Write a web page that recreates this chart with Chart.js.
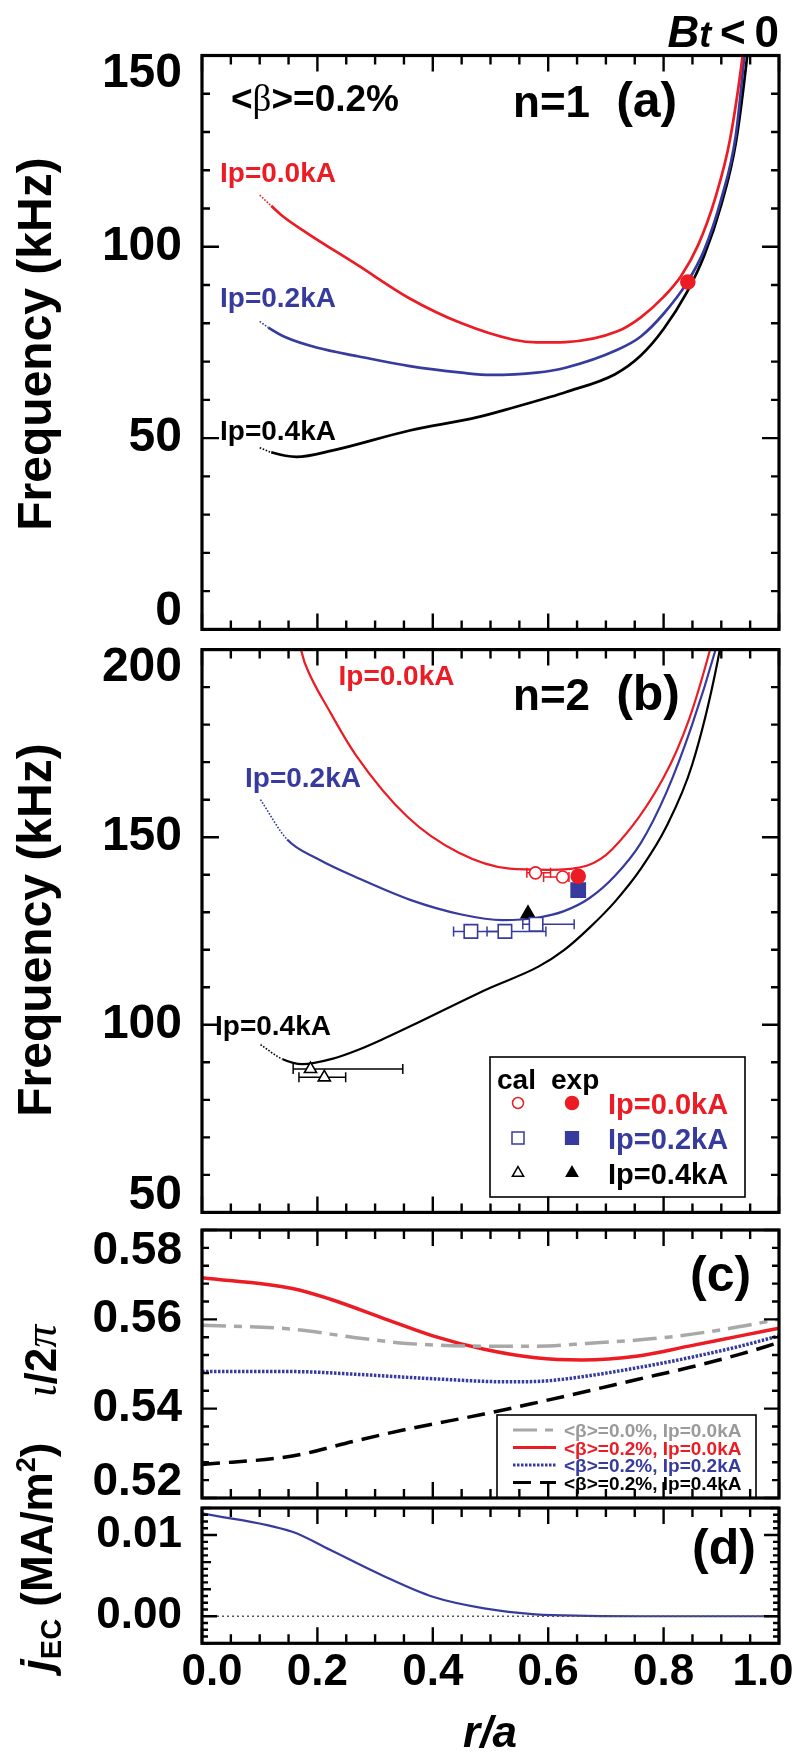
<!DOCTYPE html>
<html>
<head>
<meta charset="utf-8">
<title>n=1 / n=2 mode frequencies, rotational transform and EC current profiles</title>
<script src="https://cdn.jsdelivr.net/npm/chart.js"></script>
<style>
html,body{margin:0;padding:0;background:#ffffff;}
#wrap{position:relative;width:804px;height:1754px;overflow:hidden;background:#ffffff;}
#wrap canvas{position:absolute;left:0;}
</style>
</head>
<body>
<div id="wrap">
<canvas id="cA"></canvas>
<canvas id="cB"></canvas>
<canvas id="cC"></canvas>
<canvas id="cD"></canvas>
</div>
<script>
// ================= DATA =================
const xTickValues = [0, 0.2, 0.4, 0.6, 0.8, 1.0];
const xTickLabels = ['0.0', '0.2', '0.4', '0.6', '0.8', '1.0'];

// ---- panel (a): n=1, frequency (kHz) ----
const aYTickValues = [0, 50, 100, 150];
const aYTickLabels = ['0', '50', '100', '150'];
const aRedX   = [0.10, 0.12, 0.14, 0.18, 0.27, 0.36, 0.45, 0.54, 0.58, 0.63, 0.72, 0.76, 0.80, 0.83, 0.86, 0.89, 0.915, 0.937, 0.955];
const aRedY   = [113.5, 110.7, 108.0, 103.8, 95.2, 86.5, 80.0, 75.7, 75.0, 75.1, 77.9, 81.5, 86.9, 92.3, 100.5, 113.0, 128.0, 150.0, 175.0];
const aBlueX  = [0.10, 0.115, 0.147, 0.20, 0.27, 0.36, 0.45, 0.50, 0.58, 0.63, 0.72, 0.76, 0.80, 0.84, 0.87, 0.90, 0.925, 0.94, 0.955];
const aBlueY  = [80.5, 78.9, 76.2, 73.6, 71.4, 68.8, 67.1, 66.5, 67.1, 68.4, 73.1, 76.5, 82.5, 90.5, 99.0, 112.5, 129.0, 150.0, 175.0];
const aBlackX = [0.10, 0.12, 0.164, 0.227, 0.36, 0.476, 0.54, 0.60, 0.63, 0.716, 0.76, 0.80, 0.84, 0.87, 0.90, 0.925, 0.945, 0.965];
const aBlackY = [47.5, 46.3, 45.1, 46.8, 52.0, 55.4, 58.0, 60.6, 62.0, 66.7, 71.5, 78.5, 88.0, 97.5, 111.0, 127.0, 150.0, 180.0];
const aExpRedX = [0.842];
const aExpRedY = [90.8];

// ---- panel (b): n=2, frequency (kHz) ----
const bYTickValues = [50, 100, 150, 200];
const bYTickLabels = ['50', '100', '150', '200'];
const bRedX   = [0.14, 0.170, 0.1785, 0.2226, 0.2666, 0.3555, 0.4443, 0.5332, 0.60, 0.6666, 0.711, 0.80, 0.8443, 0.88, 0.90];
const bRedY   = [208, 200.6, 196.3, 183.2, 171.9, 155.5, 145.9, 141.6, 141.3, 142.4, 146.8, 165.9, 181.5, 199.7, 212];
const bBlueX  = [0.1014, 0.1476, 0.2009, 0.2719, 0.3608, 0.4497, 0.5208, 0.583, 0.6274, 0.6718, 0.7162, 0.7607, 0.8051, 0.8495, 0.8895, 0.91];
const bBlueY  = [160.0, 149.4, 144.2, 139.0, 133.3, 129.4, 127.9, 128.6, 130.3, 133.8, 139.8, 148.5, 162.0, 180.0, 199.7, 212];
const bBlackX = [0.1014, 0.14, 0.174, 0.227, 0.27, 0.3165, 0.3608, 0.4941, 0.583, 0.6274, 0.6718, 0.7162, 0.7607, 0.8051, 0.8495, 0.8939, 0.91];
const bBlackY = [94.7, 90.8, 89.5, 91.0, 93.3, 96.4, 99.6, 109.5, 115.5, 119.9, 125.9, 132.9, 141.6, 152.9, 169.3, 197.1, 212];
// calculated (open) and experimental (filled) points
const bCalRedX = [0.578, 0.625];
const bCalRedY = [140.5, 139.4];
const bCalRedLo = [0.563, 0.592];
const bCalRedHi = [0.604, 0.636];
const bCalBlueX = [0.466, 0.525, 0.579];
const bCalBlueY = [124.9, 124.9, 126.8];
const bCalBlueLo = [0.436, 0.494, 0.556];
const bCalBlueHi = [0.517, 0.596, 0.645];
const bCalBlackX = [0.188, 0.212];
const bCalBlackY = [88.2, 86.0];
const bCalBlackLo = [0.158, 0.168];
const bCalBlackHi = [0.348, 0.249];
const bExpRedX = [0.652];   const bExpRedY = [139.6];
const bExpBlueX = [0.652];  const bExpBlueY = [135.9];
const bExpBlackX = [0.565]; const bExpBlackY = [129.6];

// ---- panel (c): iota/2pi ----
const cYTickValues = [0.52, 0.54, 0.56, 0.58];
const cYTickLabels = ['0.52', '0.54', '0.56', '0.58'];
const cGrayX  = [0, 0.1565, 0.2666, 0.3555, 0.489, 0.578, 0.667, 0.80, 0.9065, 1.0];
const cGrayY  = [0.5587, 0.5578, 0.5559, 0.5546, 0.5540, 0.5540, 0.5546, 0.5559, 0.5578, 0.5600];
const cRedX   = [0, 0.1565, 0.2226, 0.311, 0.40, 0.489, 0.578, 0.658, 0.756, 0.844, 0.933, 1.0];
const cRedY   = [0.5693, 0.5669, 0.5645, 0.5604, 0.5563, 0.5533, 0.5514, 0.5509, 0.5518, 0.5540, 0.5563, 0.5580];
const cBlueX  = [0, 0.1565, 0.2666, 0.40, 0.533, 0.595, 0.667, 0.756, 0.844, 0.933, 1.0];
const cBlueY  = [0.5483, 0.5483, 0.5477, 0.5467, 0.5460, 0.5462, 0.5473, 0.5492, 0.5514, 0.5540, 0.5563];
const cBlackX = [0, 0.1565, 0.2666, 0.3555, 0.489, 0.578, 0.667, 0.756, 0.844, 0.933, 1.0];
const cBlackY = [0.5275, 0.5294, 0.5328, 0.5354, 0.5388, 0.5413, 0.5439, 0.5466, 0.5492, 0.5522, 0.5548];
const cLegendLabels = ['<\u03b2>=0.0%, Ip=0.0kA', '<\u03b2>=0.2%, Ip=0.0kA', '<\u03b2>=0.2%, Ip=0.2kA', '<\u03b2>=0.2%, Ip=0.4kA'];

// ---- panel (d): j_EC (MA/m^2) ----
const dYTickValues = [0, 0.01];
const dYTickLabels = ['0.00', '0.01'];
const dJX = [0, 0.1565, 0.2226, 0.311, 0.40, 0.489, 0.578, 0.667, 0.80, 1.0];
const dJY = [0.01268, 0.0104, 0.00815, 0.00508, 0.0024, 0.00097, 0.00023, 0.00005, 0.0, 0.0];
const dZeroX = [0, 1];
const dZeroY = [0, 0];

// ================= STYLE =================
const SANS = '"Liberation Sans", Arial, Helvetica, sans-serif';
const SERIF = '"Liberation Serif", "Times New Roman", serif';
const RED = '#ec1c24', BLUE = '#363b9d', BLACK = '#000000', GRAY = '#a8a8a8';
const f = (style, size, fam) => `${style} ${size}px ${fam || SANS}`;

function pts(xs, ys) { return xs.map((x, i) => ({ x: x, y: ys[i] })); }
function lineDS(label, xs, ys, color, width, dash, dotFirst) {
  const ds = { label, data: pts(xs, ys), borderColor: color, backgroundColor: color, borderWidth: width,
    borderDash: dash || [], pointRadius: 0, pointHoverRadius: 0, fill: false,
    cubicInterpolationMode: 'monotone', order: 2 };
  if (dotFirst) {
    ds.segment = {
      borderDash: c => (c.p0DataIndex === 0 ? [1.6, 1.6] : undefined),
      borderWidth: c => (c.p0DataIndex === 0 ? 1.6 : undefined)
    };
  }
  return ds;
}
function markDS(label, xs, ys, style, radius, color, filled, lo, hi) {
  return { label, data: pts(xs, ys), showLine: false, pointStyle: style, pointRadius: radius,
    pointHoverRadius: radius, pointBorderWidth: 1.6, pointBorderColor: color,
    pointBackgroundColor: filled ? color : '#ffffff', borderColor: color, backgroundColor: color,
    errLo: lo, errHi: hi, order: 1 };
}

// ================= DRAW HELPERS =================
function drawRich(ctx, spec, off) {
  ctx.save();
  ctx.translate(spec.x, spec.y - off);
  if (spec.rot) ctx.rotate(spec.rot);
  let total = 0;
  spec.segs.forEach(s => { ctx.font = s.f; s._w = ctx.measureText(s.t).width; total += s._w; });
  let cx = spec.align === 'center' ? -total / 2 : (spec.align === 'right' ? -total : 0);
  ctx.textAlign = 'left';
  ctx.textBaseline = 'alphabetic';
  spec.segs.forEach(s => {
    ctx.font = s.f;
    ctx.fillStyle = s.c || spec.c || '#000';
    ctx.fillText(s.t, cx, s.dy || 0);
    cx += s._w;
  });
  ctx.restore();
}
function marker(ctx, style, x, y, r, color, filled) {
  ctx.save();
  ctx.beginPath();
  if (style === 'circle') {
    ctx.arc(x, y, r, 0, Math.PI * 2);
  } else if (style === 'rect') {
    const s = r * Math.SQRT1_2;
    ctx.rect(x - s, y - s, 2 * s, 2 * s);
  } else {
    ctx.moveTo(x, y - r);
    ctx.lineTo(x + r * Math.sin(2 * Math.PI / 3), y - r * Math.cos(2 * Math.PI / 3));
    ctx.lineTo(x + r * Math.sin(4 * Math.PI / 3), y - r * Math.cos(4 * Math.PI / 3));
    ctx.closePath();
  }
  ctx.fillStyle = filled ? color : '#ffffff';
  ctx.fill();
  ctx.lineWidth = 1.5;
  ctx.strokeStyle = color;
  ctx.stroke();
  ctx.restore();
}

function makePanelPlugin(spec) {
  return {
    id: 'panel_' + spec.name,
    beforeDraw(chart) {
      const doNudge = (scale, map) => {
        if (!scale || !map || !scale.getLabelItems) return;
        try {
          const items = scale.getLabelItems();
          items.forEach(it => {
            const lbl = Array.isArray(it.label) ? it.label.join('') : String(it.label);
            const d = map[lbl];
            if (d && !it._nudged) {
              it._nudged = true;
              const tr = it.options.translation;
              it.options.translation = [tr[0] + d[0], tr[1] + d[1]];
            }
          });
        } catch (e) {}
      };
      doNudge(chart.scales.y, spec.yNudge);
      doNudge(chart.scales.x, spec.xNudge);
    },
    beforeDatasetsDraw(chart) {
      const ctx = chart.ctx, xs = chart.scales.x, a = chart.chartArea;
      ctx.save();
      ctx.beginPath();
      ctx.rect(a.left, a.top, a.right - a.left, a.bottom - a.top);
      ctx.clip();
      chart.data.datasets.forEach((ds, i) => {
        if (!ds.errLo) return;
        const meta = chart.getDatasetMeta(i);
        ctx.strokeStyle = ds.borderColor;
        ctx.lineWidth = 1.5;
        meta.data.forEach((pt, j) => {
          const x0 = xs.getPixelForValue(ds.errLo[j]);
          const x1 = xs.getPixelForValue(ds.errHi[j]);
          const y = pt.y;
          ctx.beginPath();
          ctx.moveTo(x0, y); ctx.lineTo(x1, y);
          ctx.moveTo(x0, y - 5); ctx.lineTo(x0, y + 5);
          ctx.moveTo(x1, y - 5); ctx.lineTo(x1, y + 5);
          ctx.stroke();
        });
      });
      ctx.restore();
    },
    afterDatasetsDraw(chart) {
      const ctx = chart.ctx, a = chart.chartArea, xs = chart.scales.x, ys = chart.scales.y;
      if (spec.legend) spec.legend(ctx, spec.top);
      ctx.save();
      ctx.strokeStyle = '#000';
      ctx.lineWidth = 2.4;
      ctx.beginPath();
      for (let i = 0; i <= 20; i++) {
        const px = xs.getPixelForValue(i * 0.05);
        const L = (i % 4 === 0) ? 16 : 9;
        ctx.moveTo(px, a.bottom); ctx.lineTo(px, a.bottom - L);
        ctx.moveTo(px, a.top); ctx.lineTo(px, a.top + L);
      }
      spec.yTicks.forEach(t => {
        const py = ys.getPixelForValue(t.v);
        ctx.moveTo(a.left, py); ctx.lineTo(a.left + t.len, py);
        ctx.moveTo(a.right, py); ctx.lineTo(a.right - t.len, py);
      });
      ctx.stroke();
      ctx.lineWidth = 3.2;
      ctx.strokeRect(a.left, a.top, a.right - a.left, a.bottom - a.top);
      ctx.restore();
      (spec.texts || []).forEach(t => drawRich(ctx, t, spec.top));
    }
  };
}

function yTickList(min, step, count, lenFn) {
  const out = [];
  for (let i = 0; i <= count; i++) out.push({ v: min + i * step, len: lenFn(i) });
  return out;
}

function buildChart(id, spec) {
  const cv = document.getElementById(id);
  cv.width = 804; cv.height = spec.height;
  cv.style.top = spec.top + 'px';
  cv.style.width = '804px'; cv.style.height = spec.height + 'px';
  const yVals = spec.yTickValues, yLabs = spec.yTickLabels;
  return new Chart(cv, {
    type: 'line',
    data: { datasets: spec.datasets },
    options: {
      responsive: false, maintainAspectRatio: false, animation: false, devicePixelRatio: 1,
      events: [],
      layout: { padding: { left: 0, right: 25, top: spec.padTop, bottom: spec.padBottom } },
      plugins: { legend: { display: false }, tooltip: { enabled: false } },
      scales: {
        x: {
          type: 'linear', min: 0, max: 1, display: !!spec.showX,
          grid: { display: false, drawTicks: false }, border: { display: false },
          afterBuildTicks: s => { s.ticks = xTickValues.map(v => ({ value: v })); },
          afterFit: s => {
            if (spec.showX) s.height = spec.xHeight;
            s.paddingLeft = 0; s.paddingRight = 0; s.paddingTop = 0; s.paddingBottom = 0;
          },
          ticks: {
            autoSkip: false, maxRotation: 0, minRotation: 0, padding: 8, color: '#000',
            font: { family: SANS, size: 44, weight: 'bold', lineHeight: 1 },
            callback: v => { const k = xTickValues.findIndex(t => Math.abs(t - v) < 1e-9); return k >= 0 ? xTickLabels[k] : ''; }
          }
        },
        y: {
          type: 'linear', min: spec.yMin, max: spec.yMax,
          grid: { display: false, drawTicks: false }, border: { display: false },
          afterBuildTicks: s => { s.ticks = yVals.map(v => ({ value: v })); },
          afterFit: s => {
            s.width = 202;
            s.paddingLeft = 0; s.paddingRight = 0; s.paddingTop = 0; s.paddingBottom = 0;
          },
          ticks: {
            autoSkip: false, padding: 20, color: '#000',
            font: { family: SANS, size: spec.yFont, weight: 'bold', lineHeight: 1 },
            callback: v => { const k = yVals.findIndex(t => Math.abs(t - v) < 1e-9); return k >= 0 ? yLabs[k] : ''; }
          }
        }
      }
    },
    plugins: [makePanelPlugin(spec)]
  });
}

// ================= PANEL (a) =================
buildChart('cA', {
  name: 'a', top: 0, height: 638, padTop: 55.5, padBottom: 4.5,
  yMin: 0, yMax: 150, yFont: 48, yTickValues: aYTickValues, yTickLabels: aYTickLabels,
  yNudge: { '150': [0, 18.5], '0': [0, -17.5] },
  yTicks: yTickList(0, 10, 15, i => (i % 5 === 0 ? 17 : 8)),
  datasets: [
    lineDS('Ip=0.0kA', aRedX, aRedY, RED, 2.7, null, true),
    lineDS('Ip=0.2kA', aBlueX, aBlueY, BLUE, 2.7, null, true),
    lineDS('Ip=0.4kA', aBlackX, aBlackY, BLACK, 2.7, null, true),
    markDS('exp Ip=0.0kA', aExpRedX, aExpRedY, 'circle', 7, RED, true)
  ],
  texts: [
    { x: 779, y: 47, align: 'right', segs: [
      { t: 'B', f: f('italic bold', 44) }, { t: 't', f: f('italic bold', 36) },
      { t: '\u2009<\u20090', f: f('bold', 44) } ] },
    { x: 231, y: 111, segs: [ { t: '<', f: f('bold', 37) }, { t: '\u03b2', f: f('normal', 37, SERIF) }, { t: '>=0.2%', f: f('bold', 37) } ] },
    { x: 513, y: 117, segs: [ { t: 'n=1 ', f: f('bold', 44) }, { t: ' (a)', f: f('bold', 50) } ] },
    { x: 220, y: 182, c: RED, segs: [ { t: 'Ip=0.0kA', f: f('bold', 28) } ] },
    { x: 220, y: 307, c: BLUE, segs: [ { t: 'Ip=0.2kA', f: f('bold', 28) } ] },
    { x: 220, y: 440, c: BLACK, segs: [ { t: 'Ip=0.4kA', f: f('bold', 28) } ] },
    { x: 51, y: 344, rot: -Math.PI / 2, align: 'center', segs: [ { t: 'Frequency (kHz)', f: f('bold', 48) } ] }
  ]
});

// ================= PANEL (b) =================
function legendB(ctx, off) {
  ctx.save();
  ctx.fillStyle = '#ffffff';
  ctx.fillRect(490, 1057 - off, 255, 140);
  ctx.strokeStyle = '#000'; ctx.lineWidth = 1.6;
  ctx.strokeRect(490, 1057 - off, 255, 140);
  ctx.fillStyle = '#000'; ctx.font = f('bold', 28); ctx.textBaseline = 'alphabetic'; ctx.textAlign = 'left';
  ctx.fillText('cal', 497, 1089 - off);
  ctx.fillText('exp', 551, 1089 - off);
  const rows = [
    { y: 1103, st: 'circle', r0: 5.5, r1: 6.5, c: RED, t: 'Ip=0.0kA' },
    { y: 1138, st: 'rect', r0: 8.5, r1: 9, c: BLUE, t: 'Ip=0.2kA' },
    { y: 1173, st: 'triangle', r0: 6.5, r1: 6.5, c: BLACK, t: 'Ip=0.4kA' }
  ];
  rows.forEach(r => {
    marker(ctx, r.st, 518, r.y - off, r.r0, r.c, false);
    marker(ctx, r.st, 572, r.y - off, r.r1, r.c, true);
    ctx.fillStyle = r.c; ctx.font = f('bold', 29);
    ctx.fillText(r.t, 608, r.y + 10.5 - off);
  });
  ctx.restore();
}
buildChart('cB', {
  name: 'b', top: 638, height: 586, padTop: 4.3, padBottom: 5.7,
  yMin: 50, yMax: 200, yFont: 48, yTickValues: bYTickValues, yTickLabels: bYTickLabels,
  yNudge: { '200': [0, 18], '50': [0, -17] },
  yTicks: yTickList(50, 10, 15, i => (i % 5 === 0 ? 17 : 8)),
  datasets: [
    lineDS('Ip=0.0kA', bRedX, bRedY, RED, 2.2),
    lineDS('Ip=0.2kA', bBlueX, bBlueY, BLUE, 2.2, null, true),
    lineDS('Ip=0.4kA', bBlackX, bBlackY, BLACK, 2.2, null, true),
    markDS('cal Ip=0.0kA', bCalRedX, bCalRedY, 'circle', 6, RED, false, bCalRedLo, bCalRedHi),
    markDS('cal Ip=0.2kA', bCalBlueX, bCalBlueY, 'rect', 9.5, BLUE, false, bCalBlueLo, bCalBlueHi),
    markDS('cal Ip=0.4kA', bCalBlackX, bCalBlackY, 'triangle', 7, BLACK, false, bCalBlackLo, bCalBlackHi),
    markDS('exp Ip=0.0kA', bExpRedX, bExpRedY, 'circle', 7, RED, true),
    markDS('exp Ip=0.2kA', bExpBlueX, bExpBlueY, 'rect', 10, BLUE, true),
    markDS('exp Ip=0.4kA', bExpBlackX, bExpBlackY, 'triangle', 7.8, BLACK, true)
  ],
  legend: legendB,
  texts: [
    { x: 338.5, y: 685, c: RED, segs: [ { t: 'Ip=0.0kA', f: f('bold', 28) } ] },
    { x: 513, y: 710, segs: [ { t: 'n=2 ', f: f('bold', 44) }, { t: ' (b)', f: f('bold', 50) } ] },
    { x: 245, y: 787, c: BLUE, segs: [ { t: 'Ip=0.2kA', f: f('bold', 28) } ] },
    { x: 215, y: 1035, c: BLACK, segs: [ { t: 'Ip=0.4kA', f: f('bold', 28) } ] },
    { x: 51, y: 930, rot: -Math.PI / 2, align: 'center', segs: [ { t: 'Frequency (kHz)', f: f('bold', 48) } ] }
  ]
});

// ================= PANEL (c) =================
const cGrayDS  = lineDS(cLegendLabels[0], cGrayX, cGrayY, GRAY, 3.5, [24, 8, 8, 8]);
const cRedDS   = lineDS(cLegendLabels[1], cRedX, cRedY, RED, 3.5);
const cBlueDS  = lineDS(cLegendLabels[2], cBlueX, cBlueY, BLUE, 3.5, [2.5, 1.5]);
const cBlackDS = lineDS(cLegendLabels[3], cBlackX, cBlackY, BLACK, 3.5, [18, 9]);
function legendC(ctx, off) {
  ctx.save();
  ctx.fillStyle = '#ffffff';
  ctx.fillRect(497, 1415 - off, 259, 83);
  ctx.strokeStyle = '#000'; ctx.lineWidth = 1.6;
  ctx.strokeRect(497, 1415 - off, 259, 83);
  const rows = [
    { y: 1430, ds: cGrayDS, c: '#9a9a9a', t: cLegendLabels[0] },
    { y: 1447.5, ds: cRedDS, c: RED, t: cLegendLabels[1] },
    { y: 1465, ds: cBlueDS, c: BLUE, t: cLegendLabels[2] },
    { y: 1482.5, ds: cBlackDS, c: BLACK, t: cLegendLabels[3] }
  ];
  rows.forEach(r => {
    ctx.beginPath();
    ctx.setLineDash(r.ds.borderDash);
    ctx.strokeStyle = r.ds.borderColor; ctx.lineWidth = 3.2;
    ctx.moveTo(513, r.y - off); ctx.lineTo(556, r.y - off);
    ctx.stroke();
    ctx.setLineDash([]);
    ctx.fillStyle = r.c; ctx.font = f('bold', 19); ctx.textBaseline = 'alphabetic'; ctx.textAlign = 'left';
    ctx.fillText(r.t, 564, r.y + 7 - off);
  });
  ctx.restore();
}
buildChart('cC', {
  name: 'c', top: 1224, height: 279, padTop: 6, padBottom: 5,
  yMin: 0.52, yMax: 0.58, yFont: 46, yTickValues: cYTickValues, yTickLabels: cYTickLabels,
  yNudge: { '0.58': [0, 21], '0.52': [0, -16] },
  yTicks: yTickList(0.52, 0.004, 15, i => (i % 5 === 0 ? 15 : 7)),
  datasets: [cGrayDS, cRedDS, cBlueDS, cBlackDS],
  legend: legendC,
  texts: [
    { x: 690, y: 1291, segs: [ { t: '(c)', f: f('bold', 50) } ] },
    { x: 56, y: 1361, rot: -Math.PI / 2, align: 'center', segs: [
      { t: '\u03b9', f: f('italic', 46, SERIF) }, { t: '/2', f: f('bold', 44) }, { t: '\u03c0', f: f('italic', 46, SERIF) } ] }
  ]
});

// ================= PANEL (d) =================
buildChart('cD', {
  name: 'd', top: 1400, height: 354, padTop: 108, padBottom: 0, showX: true, xHeight: 110.7,
  yMin: -1 / 300, yMax: 4 / 300, yFont: 44, yTickValues: dYTickValues, yTickLabels: dYTickLabels,
  xNudge: { '0.0': [10, 0], '1.0': [-16, 0] },
  yTicks: yTickList(-1 / 300, 1 / 1200, 20, i => (i === 4 || i === 16 ? 15 : (i % 4 === 0 ? 9 : 6))),
  datasets: [
    lineDS('zero', dZeroX, dZeroY, '#555555', 1.4, [2, 3]),
    lineDS('j_EC', dJX, dJY, BLUE, 2.2)
  ],
  texts: [
    { x: 692, y: 1564, segs: [ { t: '(d)', f: f('bold', 50) } ] },
    { x: 490, y: 1747, align: 'center', segs: [ { t: 'r/a', f: f('italic bold', 44) } ] },
    { x: 52, y: 1557, rot: -Math.PI / 2, align: 'center', segs: [
      { t: 'j', f: f('italic bold', 44) }, { t: 'EC', f: f('bold', 29), dy: 9 },
      { t: ' (MA/m', f: f('bold', 44) }, { t: '2', f: f('bold', 27), dy: -17 }, { t: ')', f: f('bold', 44) } ] }
  ]
});
</script>
</body>
</html>
